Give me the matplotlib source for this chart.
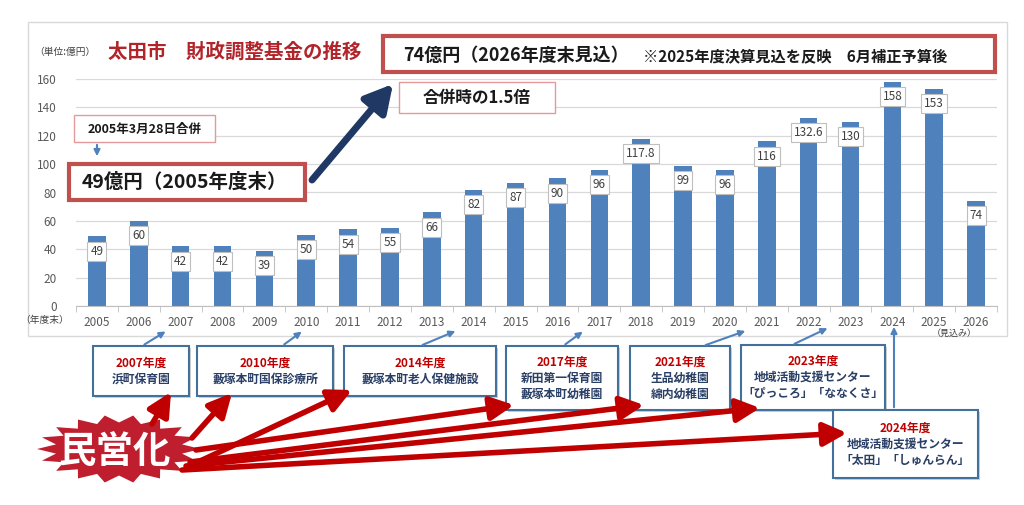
import numpy as np
import matplotlib.pyplot as plt
from matplotlib.patches import Rectangle, FancyArrowPatch, Polygon

plt.rcParams['font.family'] = ['Noto Sans CJK JP', 'DejaVu Sans']

# data
years = [str(y) for y in range(2005, 2027)]
fund = [49, 60, 42, 42, 39, 50, 54, 55, 66, 82, 87, 90, 96, 117.8, 99, 96, 116, 132.6, 130, 158, 153, 74]

# privatisation notes: (year label, lines)
notes = [
    ('2007年度', ['浜町保育園']),
    ('2010年度', ['藪塚本町国保診療所']),
    ('2014年度', ['藪塚本町老人保健施設']),
    ('2017年度', ['新田第一保育園', '藪塚本町幼稚園']),
    ('2021年度', ['生品幼稚園', '綿内幼稚園']),
    ('2023年度', ['地域活動支援センター', '「ぴっころ」「ななくさ」']),
    ('2024年度', ['地域活動支援センター', '「太田」「しゅんらん」']),
]

W, H = 1024, 505
fig = plt.figure(figsize=(W / 100, H / 100), dpi=100)

# main bar chart
ax = fig.add_axes([76 / W, 1 - 306 / H, 921 / W, 227 / H])
x = np.arange(len(years))
ax.bar(x, fund, width=0.42, color='#4F81BD', zorder=2)
for i, v in enumerate(fund):
    ax.annotate(f'{v:g}', (i, v), xytext=(0, -6), textcoords='offset points',
                ha='center', va='top', fontsize=8.5, color='#404040', zorder=3,
                bbox=dict(boxstyle='square,pad=0.25', fc='white', ec='#BFBFBF', lw=0.8))
ax.set_ylim(0, 160)
ax.set_xlim(-0.5, len(years) - 0.5)
ax.set_yticks(range(0, 161, 20))
ax.set_xticks(x)
ax.set_xticklabels(years)
ax.set_xticks(np.arange(-0.5, len(years), 1), minor=True)
ax.tick_params(axis='x', which='major', length=0, pad=7, labelsize=8.5, colors='#595959')
ax.tick_params(axis='x', which='minor', length=4, color='#BFBFBF')
ax.tick_params(axis='y', length=0, pad=14, labelsize=8.5, colors='#595959')
ax.grid(axis='y', color='#D9D9D9', lw=0.9, zorder=0)
for s in ['top', 'right', 'left']:
    ax.spines[s].set_visible(False)
ax.spines['bottom'].set_color('#BFBFBF')

# overlay in pixel coordinates for the annotations
ov = fig.add_axes([0, 0, 1, 1], zorder=5)
ov.set_xlim(0, W)
ov.set_ylim(H, 0)
ov.axis('off')
ov.patch.set_alpha(0)

ov.add_patch(Rectangle((28, 22), 979, 314, fill=False, ec='#D9D9D9', lw=1))
ov.text(20, 320, '（年度末）', fontsize=7, color='#404040', va='center')
ov.text(954, 333, '（見込み）', fontsize=6.5, color='#404040', va='center', ha='center')

ov.text(34, 52, '（単位:億円）', fontsize=7, color='#404040', va='center')
ov.text(108, 52, '太田市　財政調整基金の推移', fontsize=14, fontweight='bold',
        color='#B0242A', va='center')

ov.add_patch(Rectangle((383, 36), 612, 36, fc='white', ec='#C0504D', lw=3))
ov.text(403, 55, '74億円（2026年度末見込）', fontsize=13, fontweight='bold',
        color='#1A1A1A', va='center')
ov.text(643, 56, '※2025年度決算見込を反映　6月補正予算後', fontsize=11,
        fontweight='bold', color='#1A1A1A', va='center')

ov.add_patch(Rectangle((399, 82), 156, 31, fc='white', ec='#E49A9A', lw=1))
ov.text(477, 98, '合併時の1.5倍', fontsize=12, fontweight='bold', color='#1A1A1A',
        ha='center', va='center')

ov.add_patch(Rectangle((74, 115), 141, 27, fc='white', ec='#E49A9A', lw=1))
ov.text(145, 129, '2005年3月28日合併', fontsize=9, fontweight='bold', color='#1A1A1A',
        ha='center', va='center')
ov.add_patch(FancyArrowPatch((97, 142), (97, 159), arrowstyle='-|>', mutation_scale=9,
                             color='#4F81BD', lw=1.5))

ov.add_patch(Rectangle((69, 164), 236, 36, fc='white', ec='#C0504D', lw=3))
ov.text(82, 182, '49億円（2005年度末）', fontsize=14, fontweight='bold',
        color='#1A1A1A', va='center')

ov.add_patch(FancyArrowPatch((312, 180), (393, 84),
                             arrowstyle='-|>,head_width=0.6,head_length=1.1',
                             mutation_scale=15, color='#1F3864', lw=5,
                             shrinkA=0, shrinkB=0))

# note boxes: (left, top, width, height), blue arrow to the axis
boxes = [
    ((93, 346, 96, 50), (142, 346), (168, 330)),
    ((197, 346, 136, 50), (282, 346), (304, 330)),
    ((344, 346, 152, 50), (420, 346), (458, 330)),
    ((506, 346, 112, 64), (563, 346), (585, 330)),
    ((630, 346, 100, 64), (703, 346), (748, 330)),
    ((741, 345, 144, 65), (792, 345), (830, 327)),
    ((833, 410, 145, 68), (894, 410), (894, 324)),
]
for (year, lines), (rect, p0, p1) in zip(notes, boxes):
    bx, by, bw, bh = rect
    ov.add_patch(Rectangle((bx + 2, by + 2), bw, bh, fc='#D0D0D0', ec='none'))
    ov.add_patch(Rectangle((bx, by), bw, bh, fc='white', ec='#41719C', lw=1.5))
    n = len(lines) + 1
    step = 16
    y0 = by + bh / 2 - step * (n - 1) / 2
    cx = bx + bw / 2
    ov.text(cx, y0, year, fontsize=8.5, fontweight='bold', color='#C00000',
            ha='center', va='center')
    for k, ln in enumerate(lines):
        ov.text(cx, y0 + step * (k + 1), ln, fontsize=8.5, fontweight='bold',
                color='#2A3F66', ha='center', va='center')
    ov.add_patch(FancyArrowPatch(p0, p1, arrowstyle='-|>', mutation_scale=9,
                                 color='#4F81BD', lw=1.5))

# starburst
cxs, cys, rx, ry = 119, 449, 82, 34
ang = np.linspace(0, 2 * np.pi, 37)[:-1]
rad = np.where(np.arange(36) % 2 == 0, 1.0, 0.78)
star = np.column_stack([cxs + rx * rad * np.cos(ang), cys + ry * rad * np.sin(ang)])
ov.add_patch(Polygon(star, closed=True, fc='#BE1E2D', ec='none', zorder=3))

red_arrows = [
    ((152, 424), (171, 392)),
    ((192, 438), (232, 393)),
    ((198, 462), (352, 390)),
    ((196, 450), (514, 405)),
    ((190, 462), (644, 405)),
    ((186, 466), (760, 408)),
    ((182, 470), (847, 433)),
]
for p0, p1 in red_arrows:
    ov.add_patch(FancyArrowPatch(p0, p1, arrowstyle='-|>,head_width=0.5,head_length=1.0',
                                 mutation_scale=14, color='#C00000', lw=4, zorder=4,
                                 shrinkA=0, shrinkB=0))
ov.text(115, 452, '民営化', fontsize=27, fontweight='bold', color='white',
        ha='center', va='center', zorder=6)

fig.savefig('out.png', dpi=100)
